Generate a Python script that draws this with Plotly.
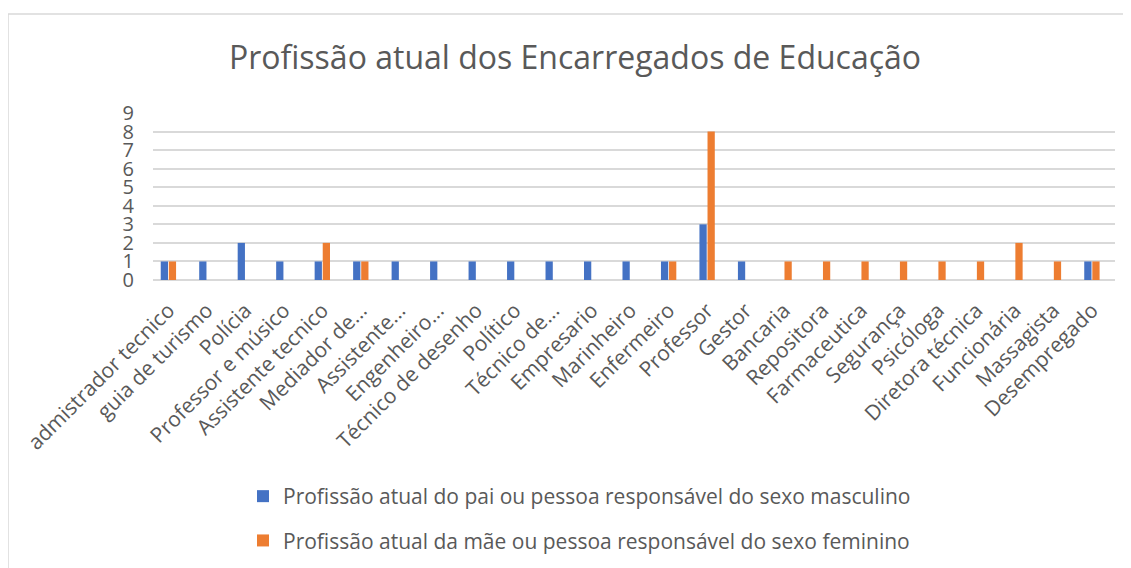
import plotly.graph_objects as go

categories = ["admistrador tecnico", "guia de turismo", "Polícia", "Professor e músico",
              "Assistente tecnico", "Mediador de...", "Assistente...", "Engenheiro...",
              "Técnico de desenho", "Político", "Técnico de...", "Empresario", "Marinheiro",
              "Enfermeiro", "Professor", "Gestor", "Bancaria", "Repositora", "Farmaceutica",
              "Segurança", "Psicóloga", "Diretora técnica", "Funcionária", "Massagista",
              "Desempregado"]
pai = [1, 1, 2, 1, 1, 1, 1, 1, 1, 1, 1, 1, 1, 1, 3, 1, 0, 0, 0, 0, 0, 0, 0, 0, 1]
mae = [1, 0, 0, 0, 2, 1, 0, 0, 0, 0, 0, 0, 0, 1, 8, 0, 1, 1, 1, 1, 1, 1, 2, 1, 1]
series_names = ["Profissão atual do pai ou pessoa responsável do sexo masculino",
                "Profissão atual da mãe ou pessoa responsável do sexo feminino"]
title = "Profissão atual dos Encarregados de Educação"
y_ticks = list(range(0, 10))

FONT = "Open Sans"
GRAY = "#595959"
GRID = "#d9d9d9"
OFF = 8  # page body margin

fig = go.Figure()
fig.add_trace(go.Bar(x=list(range(len(categories))), y=pai, name=series_names[0],
                     marker=dict(color="#4472C4", line=dict(width=0)), legendgroup="a"))
fig.add_trace(go.Bar(x=list(range(len(categories))), y=mae, name=series_names[1],
                     marker=dict(color="#ED7D31", line=dict(width=0)), legendgroup="b"))

W, H = 1131, 568
L = 153 - OFF
T = 113 - OFF
R = W - (1115 - OFF)
B = H - (280 - OFF)
pw = W - L - R
ph = H - T - B
y0px = 280 - OFF  # figure pixel of plot bottom

fig.update_layout(
    width=W, height=H,
    margin=dict(l=L, r=R, t=T, b=B, autoexpand=False),
    paper_bgcolor="white", plot_bgcolor="white",
    barmode="group", bargap=0.58, bargroupgap=0.1,
    title=dict(text=title, x=(575 - OFF) / W, xanchor="center", xref="container",
               y=1 - (58 - OFF) / H, yanchor="middle", yref="container",
               font=dict(family=FONT, size=32, color=GRAY)),
    font=dict(family=FONT, color=GRAY),
    xaxis=dict(tickmode="array", tickvals=list(range(len(categories))), ticktext=categories,
               range=[-0.4, len(categories) - 0.4], tickangle=-45,
               tickfont=dict(family=FONT, size=21, color=GRAY), ticklabelstandoff=13,
               showgrid=False, showline=False, ticks="", zeroline=False),
    yaxis=dict(range=[0, 9], tickvals=y_ticks, tickfont=dict(family=FONT, size=20, color=GRAY),
               showgrid=True, gridcolor=GRID, gridwidth=1.5, zeroline=True, zerolinecolor=GRID,
               zerolinewidth=1.5, ticks="", ticklabelstandoff=18, showline=False),
    legend=dict(orientation="v", x=(243 - OFF - L) / pw, xanchor="left",
                y=(y0px - (476 - OFF)) / ph, yanchor="top", traceorder="grouped",
                tracegroupgap=14, font=dict(family=FONT, size=21, color=GRAY),
                bgcolor="rgba(0,0,0,0)", itemwidth=30),
    shapes=[dict(type="rect", xref="paper", yref="paper",
                 x0=(8 - OFF - L) / pw, x1=(W + 10 - L) / pw,
                 y0=(y0px - (14 - OFF)) / ph, y1=(y0px - (H + 10)) / ph,
                 line=dict(color=GRID, width=1.5), fillcolor="rgba(0,0,0,0)", layer="below")],
)

fig.write_html("out.html")
